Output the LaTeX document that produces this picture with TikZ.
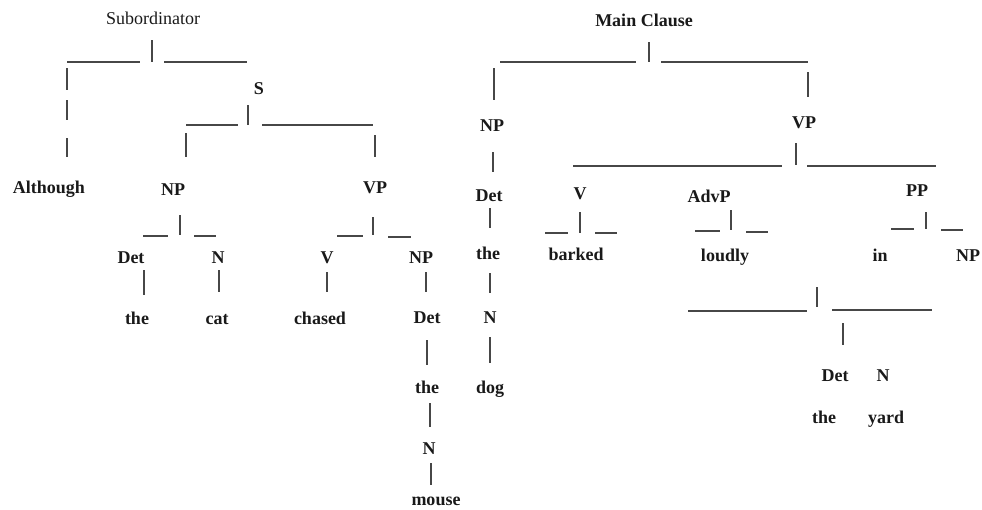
\documentclass[tikz,border=0pt]{standalone}
\usepackage{fontspec}
\setmainfont{Liberation Serif}

\begin{document}
\begin{tikzpicture}[x=1pt,y=-1pt,
					tag/.style={font=\fontsize{18}{20}\selectfont\bfseries,text=black!90,inner sep=0pt,text height=12pt,text depth=0pt},
					branch/.style={line width=1.3pt,draw=black!72}]
	\useasboundingbox (0,0) rectangle (982,509);

	% subordinate clause
	\node[tag,font=\fontsize{18}{20}\selectfont] (sub) at (153,18) {Subordinator};
	\node[tag] (although) at (49,187) {Although};
	\node[tag] (s) at (259,88) {S};
	\node[tag] (np1) at (173,189) {NP};
	\node[tag] (vp1) at (375,187) {VP};
	\node[tag] (det1) at (131,257) {Det};
	\node[tag] (n1) at (218,257) {N};
	\node[tag] (the1) at (137,318) {the};
	\node[tag] (cat) at (217,318) {cat};
	\node[tag] (v1) at (327,257) {V};
	\node[tag] (np2) at (421,257) {NP};
	\node[tag] (chased) at (320,318) {chased};
	\node[tag] (det2) at (427,317) {Det};
	\node[tag] (the2) at (427,387) {the};
	\node[tag] (n2) at (429,448) {N};
	\node[tag] (mouse) at (436,499) {mouse};

	% main clause
	\node[tag] (main) at (644,20) {Main Clause};
	\node[tag] (np3) at (492,125) {NP};
	\node[tag] (vp3) at (804,122) {VP};
	\node[tag] (det3) at (489,195) {Det};
	\node[tag] (the3) at (488,253) {the};
	\node[tag] (n3) at (490,317) {N};
	\node[tag] (dog) at (490,387) {dog};
	\node[tag] (v3) at (580,193) {V};
	\node[tag] (advp) at (709,196) {AdvP};
	\node[tag] (pp) at (917,190) {PP};
	\node[tag] (barked) at (576,254) {barked};
	\node[tag] (loudly) at (725,255) {loudly};
	\node[tag] (in) at (880,255) {in};
	\node[tag] (np4) at (968,255) {NP};
	\node[tag] (det4) at (835,375) {Det};
	\node[tag] (n4) at (883,375) {N};
	\node[tag] (the4) at (824,417) {the};
	\node[tag] (yard) at (886,417) {yard};

	% vertical strokes: x / top / bottom
	\foreach \x/\ya/\yb in {152/40/62, 67/68/90, 67/100/120, 67/138/157, 248/105/125,
			186/133/157, 375/135/157, 180/215/235, 144/270/295, 219/270/292,
			373/217/235, 327/272/292, 426/272/292, 427/340/365, 430/403/427, 431/463/485,
			649/42/62, 494/68/100, 808/72/97, 493/152/172, 796/143/165,
			490/208/228, 490/273/293, 490/337/363, 580/212/233, 731/210/230,
			926/212/229, 817/287/307, 843/323/345}
		\draw[branch] (\x,\ya) -- (\x,\yb);

	% horizontal strokes: y / left / right
	\foreach \y/\xa/\xb in {62/67/140, 62/164/247, 125/186/238, 125/262/373,
			236/143/168, 236/194/216, 236/337/363, 237/388/411,
			62/500/636, 62/661/808, 166/573/782, 166/807/936,
			233/545/568, 233/595/617, 231/695/720, 232/746/768,
			229/891/914, 230/941/963, 311/688/807, 310/832/932}
		\draw[branch] (\xa,\y) -- (\xb,\y);
\end{tikzpicture}
\end{document}
